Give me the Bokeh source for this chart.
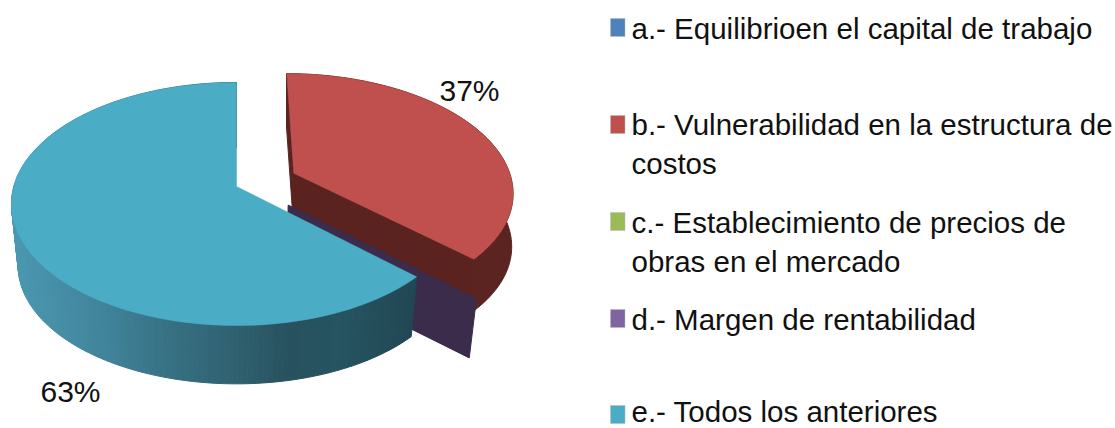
import math
from bokeh.plotting import figure
from bokeh.models import Range1d
from bokeh.core.properties import value
from bokeh.embed import file_html
from bokeh.resources import INLINE

# ---- data
categories = ["a.- Equilibrioen el capital de trabajo",
              "b.- Vulnerabilidad en la estructura de costos",
              "c.- Establecimiento de precios de obras en el mercado",
              "d.- Margen de rentabilidad",
              "e.- Todos los anteriores"]
values = [0, 37, 0, 0, 63]
top_colors = ["#4f81bd", "#c0504d", "#9bbb59", "#8064a2", "#4bacc6"]
legend_lines = [["a.- Equilibrioen el capital de trabajo"],
                ["b.- Vulnerabilidad en la estructura de", "costos"],
                ["c.- Establecimiento de precios de", "obras en el mercado"],
                ["d.- Margen de rentabilidad"],
                ["e.- Todos los anteriores"]]

# ---- layout / style
CX, CY = 236.0, 186.0
R, Q, K = 222.7, 119.0, 0.144
DEPTH, SHRINK = 62.5, 0.97
RED_DEPTH, RED_SHRINK, RED_RADIUS = 53.0, 0.995, 0.985
EXPLODE = 0.285
WALL_EXPLODE = 0.27
PERP = 0.044
TEXT_FIX = -11  # the svg text sits this far below the requested baseline
RED_RIM = "#5c2420"
RED_WALL = "#5a2320"
PURPLE_WALL = "#3b2c4b"
TEAL_STOPS = [(10, "#4b98b1"), (100, "#40849b"), (170, "#367082"), (240, "#2f5f6e"),
              (290, "#27515f"), (340, "#265461"), (415, "#214753")]


def proj(u, v, lower=False, depth=DEPTH, shrink=SHRINK):
    d = 1 - K * v
    if lower:
        return CX + shrink * R * u / d, CY + depth + shrink * Q * v / d
    return CX + R * u / d, CY + Q * v / d


def teal(x):
    def h(c):
        return [int(c[i:i + 2], 16) for i in (1, 3, 5)]
    for (x0, c0), (x1, c1) in zip(TEAL_STOPS, TEAL_STOPS[1:]):
        if x <= x1:
            t = max(0.0, (x - x0) / (x1 - x0))
            a, b = h(c0), h(c1)
            return "#%02x%02x%02x" % tuple(round(p + (q - p) * t) for p, q in zip(a, b))
    return TEAL_STOPS[-1][1]


def unit(deg):
    a = math.radians(deg)
    return math.sin(a), -math.cos(a)


def arc(a0, a1, n):
    return [a0 + (a1 - a0) * i / n for i in range(n + 1)]


p = figure(width=1115, height=428, output_backend="svg", toolbar_location=None,
           x_range=Range1d(0, 1115), y_range=Range1d(428, 0),
           min_border=0, outline_line_color=None, background_fill_color="white")
p.axis.visible = False
p.grid.visible = False

total = sum(values)
red_a1 = values[1] / total * 360.0
ex, ey = unit(red_a1 / 2)
ox, oy = EXPLODE * ex, EXPLODE * ey

# red slice: walls, rim, top
angles = arc(0, red_a1, 80)
pts = [(RED_RADIUS * math.sin(math.radians(a)) + ox, -RED_RADIUS * math.cos(math.radians(a)) + oy)
       for a in angles]
top_r = [proj(u, v) for u, v in pts]
low_r = [proj(u, v, True, RED_DEPTH, RED_SHRINK) for u, v in pts]
apex = proj(ox, oy)
apex_l = proj(ox, oy, True, RED_DEPTH, RED_SHRINK)
p.patch([apex[0], top_r[0][0], low_r[0][0], apex_l[0]],
        [apex[1], top_r[0][1], low_r[0][1], apex_l[1]], color=RED_WALL, line_width=1)
p.patch([apex[0], top_r[-1][0], low_r[-1][0], apex_l[0]],
        [apex[1], top_r[-1][1], low_r[-1][1], apex_l[1]], color=RED_WALL, line_width=1)
xs = [t[0] for t in top_r] + [l[0] for l in reversed(low_r)]
ys = [t[1] for t in top_r] + [l[1] for l in reversed(low_r)]
p.patch(xs, ys, color=RED_RIM, line_width=1)
p.patch([apex[0]] + [t[0] for t in top_r], [apex[1]] + [t[1] for t in top_r],
        color=top_colors[1], line_width=0.5)

# the zero-value purple slice, only its wall shows
bu, bv = unit(red_a1)
perp_u, perp_v = -bv, bu
if perp_u < 0:
    perp_u, perp_v = -perp_u, -perp_v
rs = (WALL_EXPLODE, 1 + WALL_EXPLODE - 0.01)
w0 = (bu * rs[0] + PERP * perp_u, bv * rs[0] + PERP * perp_v)
w1 = (bu * rs[1] + PERP * perp_u, bv * rs[1] + PERP * perp_v)
A, B, C, D = proj(*w0), proj(*w1), proj(*w1, True), proj(*w0, True)
p.patch([A[0], B[0], C[0], D[0]], [A[1], B[1], C[1], D[1]], color=PURPLE_WALL, line_width=1)

# blue slice: rim as thin shaded strips, then top
angles = arc(red_a1, 360, 200)
pts = [(math.sin(math.radians(a)), -math.cos(math.radians(a))) for a in angles]
top_b = [proj(u, v) for u, v in pts]
low_b = [proj(u, v, True) for u, v in pts]
sx, sy, sc = [], [], []
for i in range(len(pts) - 1):
    sx.append([top_b[i][0], top_b[i + 1][0], low_b[i + 1][0], low_b[i][0]])
    sy.append([top_b[i][1], top_b[i + 1][1], low_b[i + 1][1], low_b[i][1]])
    sc.append(teal((top_b[i][0] + top_b[i + 1][0]) / 2))
p.patches(sx, sy, fill_color=sc, line_color=sc, line_width=1)
ctr = proj(0, 0)
p.patch([ctr[0]] + [t[0] for t in top_b], [ctr[1]] + [t[1] for t in top_b],
        color=top_colors[4], line_width=0.5)

# percent labels
FONT = value("Liberation Sans")
p.text([439], [101 + TEXT_FIX], text=[f"{values[1]}%"], text_font=FONT, text_font_size="30px",
       text_color="#111111", text_baseline="alphabetic")
p.text([40], [402 + TEXT_FIX], text=[f"{values[4]}%"], text_font=FONT, text_font_size="30px",
       text_color="#111111", text_baseline="alphabetic")

# legend
swatch_top = [18, 115, 212, 309, 405]
baselines = [[39], [135, 174], [233, 272], [330], [422]]
for lines, c, st, bl in zip(legend_lines, top_colors, swatch_top, baselines):
    p.quad(left=[610], right=[624.5], top=[st], bottom=[st + 18], fill_color=c,
           line_color="#b9b9b9", line_width=0.5)
    for line, b in zip(lines, bl):
        p.text([631], [b + TEXT_FIX], text=[line], text_font=FONT, text_font_size="29.5px",
               text_color="#111111", text_baseline="alphabetic")

open("out.html", "w").write(file_html(p, INLINE))
